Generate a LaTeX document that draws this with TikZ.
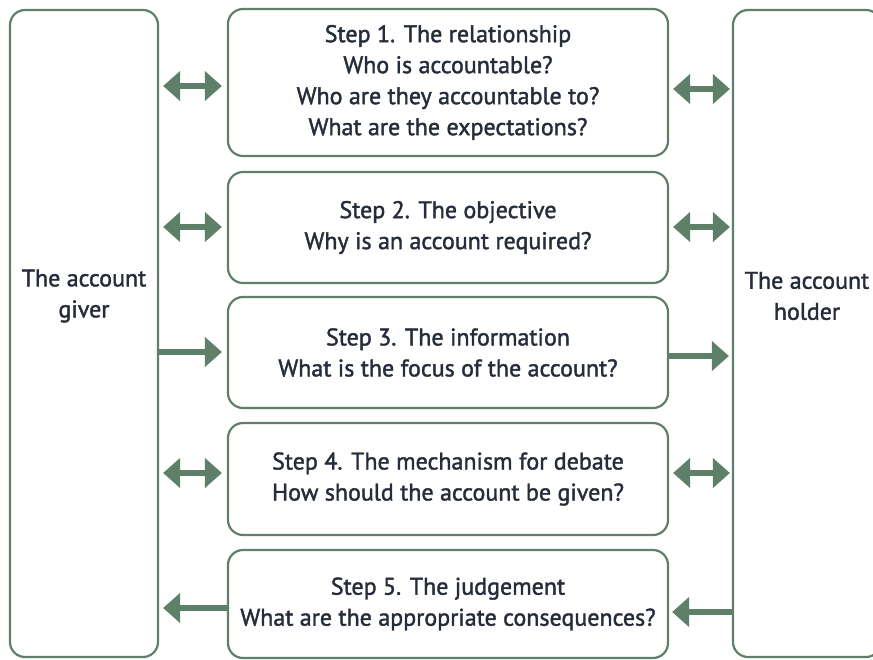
\documentclass[tikz,border=0pt]{standalone}
\usepackage{fontspec}
\setmainfont{PT Sans}[FakeBold=1.6]
\usetikzlibrary{arrows.meta,calc}
\definecolor{boxgreen}{HTML}{5E7F68}
\definecolor{txt}{HTML}{262C3A}
\begin{document}
\begin{tikzpicture}[x=1pt,y=-1pt,
  box/.style={draw=boxgreen, line width=2.2pt, rounded corners=15pt, align=center,
    text=txt, font=\fontsize{24}{31}\selectfont, inner sep=0pt},
  side/.style={box, minimum width=148pt, minimum height=647pt},
  lbl/.style={align=center, text=txt, font=\fontsize{24}{31}\selectfont, inner sep=0pt},
  stepbox/.style={box, minimum width=440pt},
  arr/.style={draw=boxgreen, line width=6pt, -{Triangle[length=17pt,width=29pt]}},
  dbl/.style={draw=boxgreen, line width=6pt, {Triangle[length=17pt,width=29pt]}-{Triangle[length=17pt,width=29pt]}}
]
\useasboundingbox (0,0) rectangle (873,659);
\node[side] (giver) at (84,333.5) {};
\node[side] (holder) at (807,333.5) {};
\node[lbl] (giverlbl) at (84,296) {The account\\giver};
\node[lbl] (holderlbl) at (807,296) {The account\\holder};
\node[stepbox, minimum height=147pt] (s1) at (448,82.5) {Step 1. The relationship\\Who is accountable?\\Who are they accountable to?\\What are the expectations?};
\node[stepbox, minimum height=111pt] (s2) at (448,227.5) {Step 2. The objective\\Why is an account required?};
\node[stepbox, minimum height=111pt] (s3) at (448,352.5) {Step 3. The information\\What is the focus of the account?};
\node[stepbox, minimum height=112pt] (s4) at (448,479) {Step 4. The mechanism for debate\\How should the account be given?};
\node[stepbox, minimum height=108pt] (s5) at (448,604) {Step 5. The judgement\\What are the appropriate consequences?};
% arrow heights
\coordinate (l1) at (0,86); \coordinate (r1) at (0,89);
\coordinate (l2) at (0,227); \coordinate (r2) at (0,227);
\coordinate (l3) at (0,352); \coordinate (r3) at (0,356);
\coordinate (l4) at (0,473); \coordinate (r4) at (0,473);
\coordinate (l5) at (0,608); \coordinate (r5) at (0,612);
\draw[dbl] ([xshift=4pt]giver.east |- l1) -- ([xshift=-5pt]s1.west |- l1);
\draw[dbl] ([xshift=4pt]s1.east |- r1) -- ([xshift=-2pt]holder.west |- r1);
\draw[dbl] ([xshift=4pt]giver.east |- l2) -- ([xshift=-5pt]s2.west |- l2);
\draw[dbl] ([xshift=4pt]s2.east |- r2) -- ([xshift=-2pt]holder.west |- r2);
\draw[arr] (giver.east |- l3) -- ([xshift=-5pt]s3.west |- l3);
\draw[arr] (s3.east |- r3) -- ([xshift=-3pt]holder.west |- r3);
\draw[dbl] ([xshift=4pt]giver.east |- l4) -- ([xshift=-5pt]s4.west |- l4);
\draw[dbl] ([xshift=4pt]s4.east |- r4) -- ([xshift=-2pt]holder.west |- r4);
\draw[arr] (s5.west |- l5) -- ([xshift=4pt]giver.east |- l5);
\draw[arr] (holder.west |- r5) -- ([xshift=3pt]s5.east |- r5);
\end{tikzpicture}
\end{document}
